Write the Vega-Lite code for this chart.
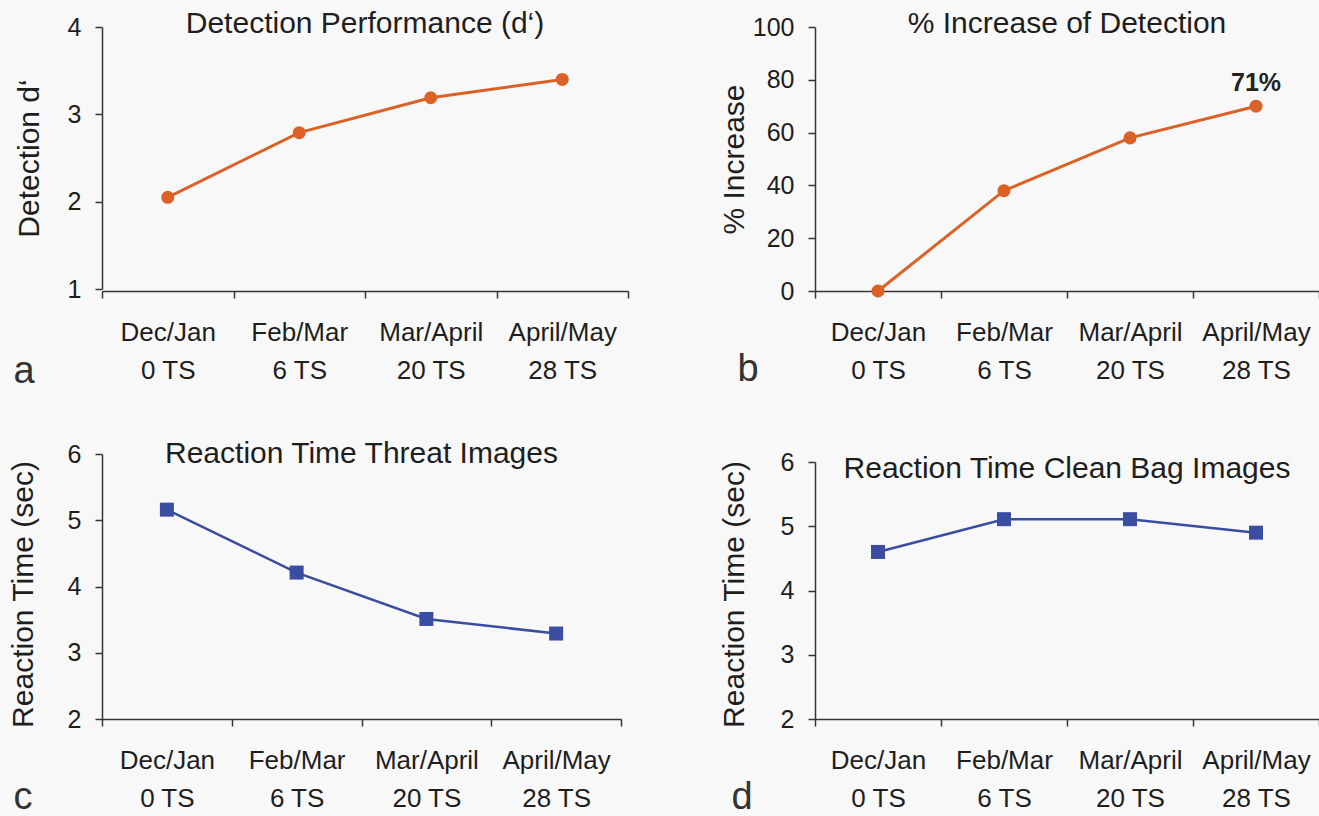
{
  "$schema": "https://vega.github.io/schema/vega-lite/v6.json",
  "background": "#f8f8f8",
  "padding": {"left": 7, "top": 9, "right": 0, "bottom": 0},
  "bounds": "flush",
  "columns": 2,
  "spacing": {"row": 163, "column": 187},
  "datasets": {
    "a": [
      {"period": "Dec/Jan\n0 TS", "value": 2.05},
      {"period": "Feb/Mar\n6 TS", "value": 2.79},
      {"period": "Mar/April\n20 TS", "value": 3.19},
      {"period": "April/May\n28 TS", "value": 3.40}
    ],
    "b": [
      {"period": "Dec/Jan\n0 TS", "value": 0, "label": ""},
      {"period": "Feb/Mar\n6 TS", "value": 38, "label": ""},
      {"period": "Mar/April\n20 TS", "value": 58, "label": ""},
      {"period": "April/May\n28 TS", "value": 70, "label": "71%"}
    ],
    "c": [
      {"period": "Dec/Jan\n0 TS", "value": 5.16},
      {"period": "Feb/Mar\n6 TS", "value": 4.21},
      {"period": "Mar/April\n20 TS", "value": 3.51},
      {"period": "April/May\n28 TS", "value": 3.29}
    ],
    "d": [
      {"period": "Dec/Jan\n0 TS", "value": 4.6},
      {"period": "Feb/Mar\n6 TS", "value": 5.11},
      {"period": "Mar/April\n20 TS", "value": 5.11},
      {"period": "April/May\n28 TS", "value": 4.9}
    ]
  },
  "concat": [
    {
      "width": 526, "height": 264,
      "data": {"name": "a"},
      "title": {"text": "Detection Performance (d‘)"},
      "encoding": {
        "x": {"field": "period", "type": "ordinal", "sort": null,
          "scale": {"type": "band", "paddingInner": 0, "paddingOuter": 0},
          "axis": {"title": "a", "titleX": -89, "titleY": 91}},
        "y": {"field": "value", "type": "quantitative",
          "scale": {"domain": [1, 4], "nice": false, "zero": false, "range": [262, 0]},
          "axis": {"values": [1, 2, 3, 4], "title": "Detection d‘", "titlePadding": 24}}
      },
      "layer": [
        {"mark": {"type": "line", "color": "#dc6126", "strokeWidth": 3}},
        {"mark": {"type": "point", "shape": "circle", "filled": true, "opacity": 1, "size": 170, "color": "#dc6126"}}
      ]
    },
    {
      "width": 504, "height": 264,
      "data": {"name": "b"},
      "title": {"text": "% Increase of Detection"},
      "encoding": {
        "x": {"field": "period", "type": "ordinal", "sort": null,
          "scale": {"type": "band", "paddingInner": 0, "paddingOuter": 0},
          "axis": {"title": "b", "titleX": -78, "titleY": 89}},
        "y": {"field": "value", "type": "quantitative",
          "scale": {"domain": [0, 100], "nice": false, "zero": false},
          "axis": {"values": [0, 20, 40, 60, 80, 100], "title": "% Increase", "titlePadding": 32}}
      },
      "layer": [
        {"mark": {"type": "line", "color": "#dc6126", "strokeWidth": 3}},
        {"mark": {"type": "point", "shape": "circle", "filled": true, "opacity": 1, "size": 170, "color": "#dc6126"}},
        {"transform": [{"filter": "datum.label != ''"}],
         "mark": {"type": "text", "fontSize": 25, "fontWeight": "bold", "dy": -15, "baseline": "alphabetic", "color": "#222", "font": "Liberation Sans"},
         "encoding": {"text": {"field": "label"}}}
      ]
    },
    {
      "width": 519, "height": 265,
      "data": {"name": "c"},
      "title": {"text": "Reaction Time Threat Images", "offset": -27},
      "encoding": {
        "x": {"field": "period", "type": "ordinal", "sort": null,
          "scale": {"type": "band", "paddingInner": 0, "paddingOuter": 0},
          "axis": {"title": "c", "titleX": -89, "titleY": 89}},
        "y": {"field": "value", "type": "quantitative",
          "scale": {"domain": [2, 6], "nice": false, "zero": false},
          "axis": {"values": [2, 3, 4, 5, 6], "title": "Reaction Time (sec)", "titlePadding": 30, "titleY": 140}}
      },
      "layer": [
        {"mark": {"type": "line", "color": "#3a4da0", "strokeWidth": 2.5}},
        {"mark": {"type": "point", "shape": "square", "filled": true, "opacity": 1, "size": 196, "color": "#3a4da0"}}
      ]
    },
    {
      "width": 504, "height": 265,
      "data": {"name": "d"},
      "title": {"text": "Reaction Time Clean Bag Images", "offset": -34},
      "encoding": {
        "x": {"field": "period", "type": "ordinal", "sort": null,
          "scale": {"type": "band", "paddingInner": 0, "paddingOuter": 0},
          "axis": {"title": "d", "titleX": -84, "titleY": 89}},
        "y": {"field": "value", "type": "quantitative",
          "scale": {"domain": [2, 6], "nice": false, "zero": false, "range": [265, 8]},
          "axis": {"values": [2, 3, 4, 5, 6], "title": "Reaction Time (sec)", "titlePadding": 32, "titleY": 140}}
      },
      "layer": [
        {"mark": {"type": "line", "color": "#3a4da0", "strokeWidth": 2.5}},
        {"mark": {"type": "point", "shape": "square", "filled": true, "opacity": 1, "size": 196, "color": "#3a4da0"}}
      ]
    }
  ],
  "config": {
    "view": {"stroke": null},
    "font": "Liberation Sans",
    "title": {"fontSize": 30, "fontWeight": "normal", "font": "Liberation Sans", "color": "#1e1e1e", "anchor": "middle", "frame": "group", "baseline": "alphabetic", "offset": -24},
    "axis": {
      "grid": false,
      "domainColor": "#3a3333", "tickColor": "#3a3333", "domainWidth": 1.5, "tickWidth": 1.5, "tickSize": 7,
      "labelColor": "#1e1e1e", "titleColor": "#1e1e1e", "labelFont": "Liberation Sans", "titleFont": "Liberation Sans",
      "titleFontWeight": "normal"
    },
    "axisY": {
      "labelFontSize": 25, "labelPadding": 14, "titleFontSize": 30, "titleBaseline": "alphabetic",
      "minExtent": 40, "maxExtent": 40
    },
    "axisX": {
      "labelFontSize": 26, "labelLineHeight": 38, "labelPadding": 21, "labelBaseline": "top", "labelAngle": 0,
      "labelOverlap": false, "tickBand": "extent",
      "labelExpr": "split(datum.label, '\\n')",
      "titleFontSize": 38, "titleAlign": "left", "titleBaseline": "alphabetic", "titleAngle": 0, "titleColor": "#333"
    }
  }
}
